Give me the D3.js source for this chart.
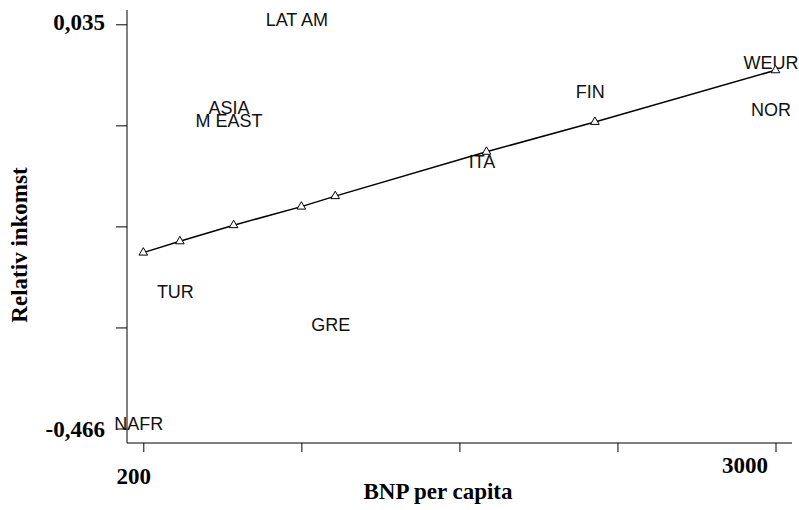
<!DOCTYPE html>
<html>
<head>
<meta charset="utf-8">
<script src="https://cdn.jsdelivr.net/npm/d3@7"></script>
<style>
  body { margin: 0; background: #fff; }
</style>
</head>
<body>
<div id="graph1"></div>
<script>
// data
var regions = ["NAFR", "TUR", "ASIA", "M EAST", "LAT AM", "GRE", "ITA", "FIN", "WEUR", "NOR"];
var bnp     = [200, 362, 600, 600, 900, 1050, 1720, 2200, 3000, 3000];
var income  = [-0.466, -0.302, -0.074, -0.090, 0.035, -0.343, -0.141, -0.054, -0.018, -0.077];

// fitted line (triangles)
var fitX = [200, 362, 600, 900, 1050, 1720, 2200, 3000];
var fitY = [-0.248, -0.234, -0.214, -0.191, -0.178, -0.123, -0.086, -0.022];

var xTicks = [200, 900, 1600, 2300, 3000];
var yTicks = [0.035, -0.09025, -0.2155, -0.34075, -0.466];

var width = 799, height = 510;
var axisX = 127, axisY = 443;

var svg = d3.select("#graph1")
  .append("svg")
    .attr("width", width)
    .attr("height", height);

var x = d3.scaleLinear()
  .domain([200, 3000])
  .range([143.3, 775.5]);

var y = d3.scaleLinear()
  .domain([-0.466, 0.035])
  .range([428.5, 24.3]);

// comma decimals, plain hyphen for minus
var fmt = function(d) { return d3.format(".3f")(d).replace(".", ",").replace("\u2212", "-"); };

// x axis
var gx = svg.append("g")
  .attr("transform", "translate(0," + axisY + ")")
  .call(d3.axisBottom(x)
    .tickValues(xTicks)
    .tickSizeInner(9)
    .tickSizeOuter(0)
    .tickFormat(function(d) { return (d == 200 || d == 3000) ? d : ""; }));
gx.select(".domain").remove();
gx.selectAll("line").attr("stroke", "#000");
gx.selectAll("text")
  .attr("fill", "#000")
  .style("font-family", "Liberation Serif, Times New Roman, serif")
  .style("font-weight", "bold")
  .style("font-size", "23px")
  .attr("y", 0)
  .attr("dy", 0)
  .attr("transform", function(d) { return d == 200 ? "translate(-10,41)" : "translate(-31,30)"; });
svg.append("line")
  .attr("x1", axisX).attr("x2", 792)
  .attr("y1", axisY).attr("y2", axisY)
  .attr("stroke", "#000");

// y axis
var gy = svg.append("g")
  .attr("transform", "translate(" + axisX + ",0)")
  .call(d3.axisLeft(y)
    .tickValues(yTicks)
    .tickSizeInner(11)
    .tickSizeOuter(0)
    .tickFormat(function(d) { return (d == 0.035 || d == -0.466) ? fmt(d) : ""; }));
gy.select(".domain").remove();
gy.selectAll("line").attr("stroke", "#000");
gy.selectAll("text")
  .attr("fill", "#000")
  .style("font-family", "Liberation Serif, Times New Roman, serif")
  .style("font-weight", "bold")
  .style("font-size", "23px")
  .attr("x", -22)
  .attr("dy", function(d) { return d == 0.035 ? "5px" : "8px"; });
svg.append("line")
  .attr("x1", axisX).attr("x2", axisX)
  .attr("y1", 10).attr("y2", axisY)
  .attr("stroke", "#000");

// axis titles
svg.append("text")
  .attr("x", 438)
  .attr("y", 499)
  .attr("text-anchor", "middle")
  .style("font-family", "Liberation Serif, Times New Roman, serif")
  .style("font-weight", "bold")
  .style("font-size", "23px")
  .text("BNP per capita");

svg.append("text")
  .attr("transform", "translate(27,245)rotate(-90)")
  .attr("text-anchor", "middle")
  .style("font-family", "Liberation Serif, Times New Roman, serif")
  .style("font-weight", "bold")
  .style("font-size", "23px")
  .text("Relativ inkomst");

// country labels
svg.append("g")
  .selectAll("text")
  .data(regions)
  .enter()
  .append("text")
    .attr("x", function(d, i) { return x(bnp[i]) - 4.5; })
    .attr("y", function(d, i) { return y(income[i]) + 1.5; })
    .attr("text-anchor", "middle")
    .style("font-family", "Liberation Sans, Arial, sans-serif")
    .style("font-size", "18px")
    .style("fill", "#111")
    .text(function(d) { return d; });

// fitted line
var fit = fitX.map(function(d, i) { return {x: d, y: fitY[i]}; });
svg.append("path")
  .datum(fit)
  .attr("fill", "none")
  .attr("stroke", "#000")
  .attr("stroke-width", 1.5)
  .attr("d", d3.line()
    .x(function(d) { return x(d.x); })
    .y(function(d) { return y(d.y); }));

svg.append("g")
  .selectAll("path")
  .data(fit)
  .enter()
  .append("path")
    .attr("d", d3.symbol().type(d3.symbolTriangle).size(32))
    .attr("transform", function(d) { return "translate(" + x(d.x) + "," + y(d.y) + ")"; })
    .attr("fill", "#fff")
    .attr("stroke", "#000")
    .attr("stroke-width", 1);
</script>
</body>
</html>
